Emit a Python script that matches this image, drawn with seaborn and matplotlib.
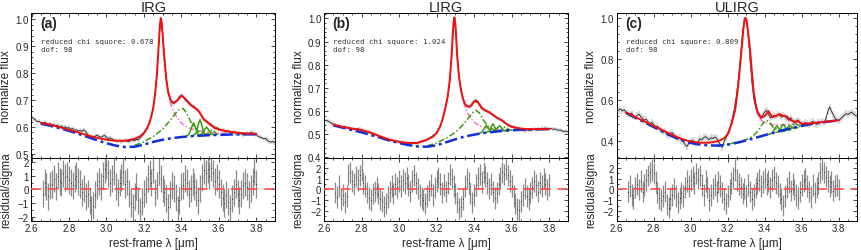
import numpy as np
import matplotlib
matplotlib.use("Agg")
import matplotlib.pyplot as plt
from matplotlib.ticker import MultipleLocator
import seaborn as sns

# panel labels / fit stats
titles = ["IRG", "LIRG", "ULIRG"]
tags = ["(a)", "(b)", "(c)"]
chi2 = ["0.678", "1.024", "0.809"]
dof = ["98", "98", "98"]

# observed spectra, 2.60 - 3.90 um in 0.01 steps
wave_obs = np.round(np.linspace(2.60, 3.90, 131), 2)
irg_flux = [
    0.638, 0.632, 0.628, 0.620, 0.622, 0.615, 0.612, 0.618, 0.614, 0.610,
    0.612, 0.606, 0.609, 0.605, 0.607, 0.601, 0.604, 0.598, 0.601, 0.596,
    0.598, 0.592, 0.595, 0.588, 0.590, 0.585, 0.588, 0.584, 0.590, 0.582,
    0.573, 0.566, 0.562, 0.563, 0.566, 0.570, 0.565, 0.562, 0.566, 0.569,
    0.562, 0.558, 0.560, 0.556, 0.552, 0.550, 0.548, 0.551, 0.547, 0.549,
    0.552, 0.548, 0.546, 0.550, 0.553, 0.549, 0.555, 0.552, 0.560, 0.568,
    0.575, 0.586, 0.598, 0.617, 0.640, 0.672, 0.722, 0.800, 0.915, 1.000,
    0.945, 0.850, 0.778, 0.728, 0.702, 0.690, 0.688, 0.694, 0.703, 0.712,
    0.718, 0.714, 0.702, 0.698, 0.692, 0.684, 0.679, 0.676, 0.668, 0.664,
    0.652, 0.641, 0.630, 0.625, 0.617, 0.612, 0.610, 0.603, 0.600, 0.597,
    0.594, 0.588, 0.590, 0.585, 0.582, 0.586, 0.580, 0.577, 0.581, 0.576,
    0.574, 0.578, 0.575, 0.571, 0.574, 0.578, 0.575, 0.580, 0.578, 0.576,
    0.572, 0.566, 0.562, 0.560, 0.556, 0.558, 0.550, 0.546, 0.544, 0.547, 0.542]
lirg_flux = [
    0.561, 0.559, 0.557, 0.552, 0.548, 0.543, 0.540, 0.537, 0.536, 0.533,
    0.531, 0.533, 0.529, 0.530, 0.526, 0.525, 0.522, 0.520, 0.524, 0.521,
    0.518, 0.517, 0.514, 0.511, 0.509, 0.505, 0.503, 0.500, 0.496, 0.494,
    0.490, 0.487, 0.484, 0.480, 0.478, 0.476, 0.474, 0.473, 0.470, 0.468,
    0.467, 0.464, 0.465, 0.461, 0.462, 0.460, 0.462, 0.459, 0.461, 0.459,
    0.463, 0.466, 0.470, 0.468, 0.473, 0.478, 0.481, 0.486, 0.492, 0.498,
    0.506, 0.520, 0.538, 0.560, 0.590, 0.625, 0.665, 0.730, 0.840, 0.960,
    0.985, 0.840, 0.745, 0.690, 0.655, 0.632, 0.622, 0.618, 0.620, 0.630,
    0.642, 0.648, 0.640, 0.628, 0.616, 0.608, 0.603, 0.600, 0.596, 0.590,
    0.584, 0.578, 0.572, 0.568, 0.563, 0.561, 0.552, 0.545, 0.540, 0.536,
    0.533, 0.530, 0.527, 0.525, 0.521, 0.524, 0.518, 0.514, 0.519, 0.516,
    0.520, 0.518, 0.522, 0.519, 0.524, 0.521, 0.526, 0.523, 0.527, 0.524,
    0.522, 0.525, 0.521, 0.523, 0.519, 0.517, 0.518, 0.514, 0.512, 0.513, 0.510]
ulirg_flux = [
    0.555, 0.548, 0.556, 0.545, 0.552, 0.540, 0.534, 0.528, 0.535, 0.524,
    0.515, 0.522, 0.530, 0.518, 0.508, 0.500, 0.505, 0.492, 0.482, 0.490,
    0.478, 0.468, 0.472, 0.458, 0.450, 0.442, 0.448, 0.430, 0.424, 0.436,
    0.440, 0.428, 0.418, 0.410, 0.415, 0.402, 0.395, 0.380, 0.372, 0.388,
    0.398, 0.402, 0.392, 0.385, 0.395, 0.410, 0.404, 0.415, 0.420, 0.412,
    0.405, 0.415, 0.410, 0.418, 0.412, 0.395, 0.380, 0.368, 0.395, 0.412,
    0.432, 0.450, 0.488, 0.530, 0.580, 0.640, 0.720, 0.820, 0.930, 0.990,
    0.990, 0.920, 0.800, 0.690, 0.610, 0.565, 0.535, 0.520, 0.512, 0.525,
    0.542, 0.548, 0.530, 0.512, 0.518, 0.524, 0.520, 0.528, 0.525, 0.515,
    0.522, 0.518, 0.508, 0.500, 0.512, 0.498, 0.488, 0.495, 0.502, 0.490,
    0.478, 0.482, 0.490, 0.485, 0.478, 0.488, 0.495, 0.485, 0.480, 0.492,
    0.488, 0.495, 0.490, 0.505, 0.540, 0.565, 0.545, 0.528, 0.510, 0.502,
    0.498, 0.508, 0.515, 0.525, 0.532, 0.528, 0.535, 0.540, 0.530, 0.524, 0.520]
flux_err = [0.008, 0.008, 0.016]

# residual / sigma, 2.66 - 3.80 um
wave_res = np.round(np.linspace(2.66, 3.80, 115), 2)
irg_resid = [
    -0.3, 0.5, 0.2, -0.5, 0.3,
    0.4, 0.8, 0.2, 1.0, 0.6, 0.5, 1.2, 0.9, 1.0, 0.7,
    0.5, 0.3, 0.8, 1.0, 0.6, 0.4, -0.2, 0.1, -0.5, -0.3,
    -0.8, -1.5, -1.2, -0.4, 0.3, 0.6, 0.2, 1.0, 1.5, 1.8,
    1.2, 0.5, 0.8, 1.3, 0.2, -0.2, 0.5, 0.9, 1.3, 0.4,
    0.6, -0.3, -1.0, -1.3, -0.5, 0.2, -0.8, -1.6, -0.9, -0.3,
    0.0, 0.8, 1.2, 0.5, 1.5, -0.2, 0.3, 1.3, 0.8, 0.1,
    -0.2, -0.7, -1.3, -0.4, 0.3, 0.1, -0.6, -1.5, -0.8, 0.2,
    0.3, 0.8, 0.5, -0.3, 0.1, 0.6, 0.2, -0.2, -0.8, 0.1,
    0.9, 1.4, 1.2, 1.5, 1.0, 1.6, 1.2, 0.6, 0.9, 0.4,
    -0.2, -0.6, -1.0, -0.4, -0.9, -1.4, -0.7, -0.2, 0.4, -0.3,
    -0.8, -0.3, 0.3, 0.5, 0.2, -0.4, 0.1, 0.6, 1.3, 0.4]
lirg_resid = [
    -0.3, -0.7, 0.3, -0.9, -0.5,
    -1.2, -0.6, 1.4, 1.6, 0.8, 0.5, 1.2, 0.9, 1.3, 1.8,
    0.6, 0.3, -0.3, -0.8, -1.0, -0.4, -0.2, 0.2, -0.4, -0.9,
    -1.1, -1.6, -1.3, -0.7, -0.2, 0.3, -0.4, 0.5, 0.2, 0.8,
    0.3, 0.9, 0.6, 1.1, 0.4, -0.2, 0.8, 1.3, 0.6, 0.1,
    -0.5, -0.8, -1.0, -1.3, -0.6, -0.1, 0.4, -0.5, 0.2, 0.8,
    1.1, 0.5, -0.3, 0.4, -0.2, 0.6, 1.4, 1.0, 0.3, -0.4,
    -1.2, -1.8, -1.6, -0.9, 0.3, 1.0, 0.6, -0.4, -1.2, -0.5,
    0.4, 1.1, 1.4, 0.7, 1.6, 1.2, 0.6, 0.1, 0.5, -0.2,
    -0.8, -0.3, 0.5, 1.1, 1.6, 1.4, 1.9, 1.3, 0.8, 0.3,
    -0.6, -1.3, -1.8, -1.9, -1.1, -0.5, 0.1, -0.6, -0.9, -0.3,
    0.2, 0.8, 0.4, -0.2, 0.6, 0.3, 1.0, 0.5, 0.0, 0.4]
ulirg_resid = [
    -0.2, 0.3, -0.5, -0.8, 0.2,
    0.5, 0.0, 0.8, -0.2, 0.4, 0.9, 1.3, 1.6, 1.8, 1.5,
    0.7, -0.3, -0.8, -1.0, -0.6, -0.2, -1.4, -1.7, -0.9, -0.5,
    0.1, -0.6, -1.2, -0.8, -0.3, -0.6, 0.2, 0.8, 0.3, 0.9,
    1.2, 0.6, 1.5, 1.0, 1.3, 0.4, -0.5, 0.8, 0.2, -1.0,
    -0.5, 0.1, 0.4, -0.2, 0.7, 0.3, -0.3, -0.9, -1.3, -0.6,
    0.0, 0.6, 1.1, 1.8, 0.9, 0.5, 0.2, -0.4, 0.1, -0.6,
    0.4, -0.2, -0.9, -0.5, 0.2, 0.6, 0.9, 0.3, 0.7, 1.0,
    0.5, 0.8, 0.2, 0.9, 1.2, 0.6, 0.3, -0.4, -0.9, -1.5,
    -0.6, 0.2, 0.7, -0.1, 0.5, 0.0, -0.5, -0.8, -0.2, 0.4,
    0.8, 1.0, 0.3, -0.2, -0.7, 0.4, -0.3, 0.2, 0.6, 1.6,
    1.9, 1.6, 1.2, 0.8, 0.3, 0.7, -0.1, 0.3, 0.4, 0.0]

# total fitted model
model_wave = [2.65, 2.70, 2.75, 2.80, 2.85, 2.90, 2.95, 3.00, 3.05, 3.10,
              3.15, 3.18, 3.20, 3.22, 3.23, 3.24, 3.25, 3.26, 3.27, 3.28,
              3.285, 3.29, 3.295, 3.30, 3.305, 3.31, 3.32, 3.33, 3.34, 3.35,
              3.36, 3.38, 3.40, 3.42, 3.44, 3.46, 3.48, 3.50, 3.52, 3.54,
              3.56, 3.58, 3.60, 3.65, 3.70, 3.75, 3.80]
irg_model = [0.616, 0.609, 0.600, 0.590, 0.580, 0.569, 0.560, 0.553, 0.549, 0.549,
             0.556, 0.566, 0.578, 0.600, 0.617, 0.640, 0.672, 0.722, 0.800, 0.915,
             0.975, 1.005, 0.990, 0.945, 0.895, 0.850, 0.776, 0.730, 0.705, 0.694,
             0.690, 0.700, 0.717, 0.706, 0.688, 0.677, 0.668, 0.652, 0.628, 0.618,
             0.606, 0.596, 0.591, 0.584, 0.579, 0.576, 0.575]
lirg_model = [0.542, 0.531, 0.524, 0.518, 0.506, 0.490, 0.476, 0.467, 0.462, 0.463,
              0.476, 0.490, 0.505, 0.535, 0.560, 0.590, 0.625, 0.668, 0.735, 0.840,
              0.920, 0.980, 1.004, 0.975, 0.905, 0.830, 0.745, 0.690, 0.655, 0.632,
              0.622, 0.619, 0.642, 0.638, 0.612, 0.602, 0.594, 0.583, 0.572, 0.563,
              0.552, 0.540, 0.532, 0.524, 0.522, 0.522, 0.522]
ulirg_model = [0.538, 0.516, 0.494, 0.472, 0.450, 0.428, 0.408, 0.396, 0.390, 0.390,
               0.398, 0.412, 0.432, 0.480, 0.515, 0.550, 0.620, 0.700, 0.800, 0.900,
               0.950, 0.985, 1.000, 0.995, 0.970, 0.930, 0.850, 0.740, 0.640, 0.580,
               0.545, 0.512, 0.520, 0.545, 0.515, 0.520, 0.530, 0.522, 0.518, 0.500,
               0.493, 0.496, 0.482, 0.485, 0.490, 0.495, 0.500]

# continuum
cont_wave = [2.65, 2.70, 2.75, 2.80, 2.85, 2.90, 2.95, 3.00, 3.05, 3.10, 3.15, 3.20,
             3.25, 3.30, 3.35, 3.40, 3.45, 3.50, 3.55, 3.60, 3.65, 3.70, 3.75, 3.80]
irg_cont = [0.613, 0.605, 0.596, 0.586, 0.575, 0.563, 0.551, 0.540, 0.531, 0.526, 0.527, 0.535,
            0.545, 0.553, 0.559, 0.563, 0.566, 0.568, 0.570, 0.571, 0.572, 0.573, 0.573, 0.573]
lirg_cont = [0.538, 0.528, 0.518, 0.508, 0.496, 0.485, 0.472, 0.462, 0.453, 0.447, 0.446, 0.452,
             0.465, 0.478, 0.490, 0.498, 0.505, 0.510, 0.514, 0.517, 0.519, 0.520, 0.521, 0.522]
ulirg_cont = [0.536, 0.513, 0.490, 0.467, 0.444, 0.421, 0.402, 0.389, 0.381, 0.377, 0.376, 0.381,
              0.390, 0.401, 0.414, 0.427, 0.439, 0.452, 0.463, 0.473, 0.481, 0.488, 0.494, 0.500]

# continuum + 3.3 um feature
pah33_wave = [3.30, 3.32, 3.34, 3.36, 3.38, 3.40, 3.42, 3.45, 3.50, 3.55, 3.60, 3.70, 3.80]
irg_pah33 = [0.940, 0.770, 0.690, 0.655, 0.632, 0.615, 0.604, 0.594, 0.585, 0.581, 0.578, 0.576, 0.575]
lirg_pah33 = [0.970, 0.740, 0.645, 0.600, 0.570, 0.552, 0.540, 0.530, 0.522, 0.519, 0.519, 0.520, 0.522]
ulirg_pah33 = [0.990, 0.840, 0.630, 0.530, 0.500, 0.488, 0.482, 0.478, 0.478, 0.480, 0.484, 0.490, 0.500]

# continuum + 3.4 um plateau feature
pah34_wave = [3.15, 3.20, 3.25, 3.30, 3.34, 3.37, 3.39, 3.41, 3.43, 3.45, 3.48, 3.52, 3.58]
irg_pah34 = [0.532, 0.545, 0.565, 0.592, 0.625, 0.652, 0.666, 0.669, 0.650, 0.620, 0.590, 0.573, 0.571]
lirg_pah34 = [0.450, 0.462, 0.482, 0.508, 0.540, 0.570, 0.592, 0.603, 0.590, 0.560, 0.528, 0.514, 0.516]
ulirg_pah34 = [0.377, 0.383, 0.393, 0.405, 0.425, 0.455, 0.485, 0.500, 0.485, 0.460, 0.452, 0.456, 0.468]

# continuum + weak 3.46-3.56 um features (one id per feature)
small_id = [1] * 7 + [2] * 7 + [3] * 7 + [4] * 7
irg_small_wave = [3.42, 3.44, 3.455, 3.465, 3.475, 3.49, 3.51,
                  3.46, 3.48, 3.49, 3.50, 3.51, 3.52, 3.54,
                  3.49, 3.51, 3.525, 3.535, 3.545, 3.56, 3.58,
                  3.52, 3.54, 3.555, 3.565, 3.575, 3.59, 3.62]
irg_small_flux = [0.564, 0.572, 0.600, 0.616, 0.600, 0.572, 0.568,
                  0.567, 0.578, 0.610, 0.628, 0.605, 0.578, 0.569,
                  0.568, 0.575, 0.592, 0.600, 0.590, 0.575, 0.570,
                  0.569, 0.575, 0.586, 0.590, 0.584, 0.574, 0.571]
lirg_small_wave = irg_small_wave
lirg_small_flux = [0.502, 0.507, 0.526, 0.538, 0.526, 0.510, 0.510,
                   0.507, 0.512, 0.530, 0.545, 0.530, 0.514, 0.512,
                   0.510, 0.514, 0.528, 0.537, 0.528, 0.515, 0.516,
                   0.512, 0.515, 0.526, 0.532, 0.526, 0.517, 0.518]
ulirg_small_wave = irg_small_wave
ulirg_small_flux = [0.431, 0.437, 0.460, 0.473, 0.460, 0.444, 0.447,
                    0.440, 0.446, 0.468, 0.480, 0.468, 0.452, 0.452,
                    0.447, 0.452, 0.466, 0.475, 0.468, 0.460, 0.464,
                    0.452, 0.458, 0.478, 0.490, 0.480, 0.470, 0.472]

flux_all = [irg_flux, lirg_flux, ulirg_flux]
resid_all = [irg_resid, lirg_resid, ulirg_resid]
model_all = [irg_model, lirg_model, ulirg_model]
cont_all = [irg_cont, lirg_cont, ulirg_cont]
pah33_all = [irg_pah33, lirg_pah33, ulirg_pah33]
pah34_all = [irg_pah34, lirg_pah34, ulirg_pah34]
small_wave_all = [irg_small_wave, lirg_small_wave, ulirg_small_wave]
small_flux_all = [irg_small_flux, lirg_small_flux, ulirg_small_flux]

ylims = [(0.484, 1.024), (0.396, 1.023), (0.314, 1.024)]
yticks = [np.arange(0.5, 1.01, 0.1), np.arange(0.4, 1.01, 0.1), np.arange(0.4, 1.01, 0.2)]
rlims = [(-2.3, 2.3), (-2.9, 2.9), (-2.9, 2.9)]

sns.set_style("ticks")
plt.rcParams['font.family'] = ['Liberation Sans', 'DejaVu Sans']
plt.rcParams['xtick.direction'] = 'in'
plt.rcParams['ytick.direction'] = 'in'

W, H = 861, 251
fig = plt.figure(figsize=(W / 100, H / 100), dpi=100)
lefts = [31.5, 324, 616.7]
rights = [275, 568, 857.3]

GREEN = '#3d9a0f'
BLUE = '#1030d8'
RED = '#f01010'
PINK = '#ff66cc'
DASHDOT = [4, 1.5, 1, 1.5]

for i in range(3):
    x0 = lefts[i] / W
    w = (rights[i] - lefts[i]) / W
    ax = fig.add_axes([x0, (H - 159.3) / H, w, 145.3 / H])
    axr = fig.add_axes([x0, (H - 221.6) / H, w, 62.3 / H])

    # spectrum with its error bars
    f = np.array(flux_all[i])
    ax.vlines(wave_obs, f - flux_err[i], f + flux_err[i], color='#dcdcdc', lw=1.6, zorder=1)
    sns.lineplot(x=wave_obs, y=f, ax=ax, color='#222222', lw=0.6, zorder=2)

    # fit components
    sns.lineplot(x=pah33_wave, y=pah33_all[i], ax=ax, color=PINK, lw=1.0, zorder=3)
    ax.lines[-1].set_dashes(DASHDOT)
    sns.lineplot(x=pah34_wave, y=pah34_all[i], ax=ax, color=GREEN, lw=1.1, zorder=3)
    ax.lines[-1].set_dashes(DASHDOT)
    sns.lineplot(x=small_wave_all[i], y=small_flux_all[i], units=small_id, estimator=None,
                 ax=ax, color=GREEN, lw=1.1, zorder=3)
    ax.lines[-1].set_dashes(DASHDOT)
    sns.lineplot(x=cont_wave, y=cont_all[i], ax=ax, color=BLUE, lw=1.8, zorder=4)
    ax.lines[-1].set_dashes([5, 1.5, 1.2, 1.5])
    sns.lineplot(x=model_wave, y=model_all[i], ax=ax, color=RED, lw=1.4, zorder=5)

    ax.set_xlim(2.6, 3.9)
    ax.set_ylim(*ylims[i])
    ax.set_yticks(yticks[i])
    ax.set_yticklabels([f"{v:.1f}" for v in yticks[i]])
    ax.set_xticks(np.arange(2.6, 3.85, 0.2))
    ax.xaxis.set_minor_locator(MultipleLocator(0.05))
    ax.yaxis.set_minor_locator(MultipleLocator(0.02 if i < 2 else 0.04))
    ax.tick_params(labelbottom=False, top=True, right=True, which='both', labelsize=7,
                   length=3, width=0.6, pad=2)
    ax.tick_params(which='minor', length=1.6)
    ax.set_xlabel("")
    ax.set_ylabel("normalize flux", fontsize=8.5, labelpad=2)
    ax.yaxis.set_label_coords(-19.5 / (rights[i] - lefts[i]), 0.5)
    ax.text(0.035, 0.93, tags[i], transform=ax.transAxes, fontsize=10, fontweight='bold',
            va='center', ha='left')
    ax.text(0.037, 0.81, f"reduced chi squore: {chi2[i]}", transform=ax.transAxes,
            fontsize=5.3, color='#333333', va='center', ha='left',
            family=['DejaVu Sans Mono', 'DejaVu Sans'])
    ax.text(0.037, 0.755, f"dof: {dof[i]}", transform=ax.transAxes,
            fontsize=5.3, color='#333333', va='center', ha='left',
            family=['DejaVu Sans Mono', 'DejaVu Sans'])
    fig.text((lefts[i] + rights[i]) / 2 / W, 1 - 7.5 / H, titles[i], fontsize=10.5,
             ha='center', va='center')

    # residuals
    r = np.array(resid_all[i])
    axr.vlines(wave_res, r - 1, r + 1, color='#8a8a8a', lw=0.9, zorder=1)
    sns.scatterplot(x=wave_res, y=r, ax=axr, color='#333333', s=0.6, linewidth=0, zorder=2)
    axr.axhline(0, color='#ff4a4a', lw=1.2, dashes=[6, 4], zorder=3)
    axr.set_xlim(2.6, 3.9)
    axr.set_ylim(*rlims[i])
    axr.set_yticks([-2, -1, 0, 1, 2])
    axr.set_xticks(np.arange(2.6, 3.85, 0.2))
    axr.set_xticklabels([f"{v:.1f}" for v in np.arange(2.6, 3.85, 0.2)])
    axr.xaxis.set_minor_locator(MultipleLocator(0.05))
    axr.yaxis.set_minor_locator(MultipleLocator(0.5))
    axr.tick_params(top=True, right=True, which='both', labelsize=7, length=3, width=0.6, pad=2)
    axr.tick_params(which='minor', length=1.6)
    axr.set_xlabel("rest-frame λ [μm]", fontsize=8.5, labelpad=2.5)
    axr.set_ylabel("residual/sigma", fontsize=8.5)
    axr.yaxis.set_label_coords(-19.5 / (rights[i] - lefts[i]), 0.5)

    for a in (ax, axr):
        for s in a.spines.values():
            s.set_linewidth(0.7)
            s.set_color('black')

fig.savefig("out.png", dpi=100)
